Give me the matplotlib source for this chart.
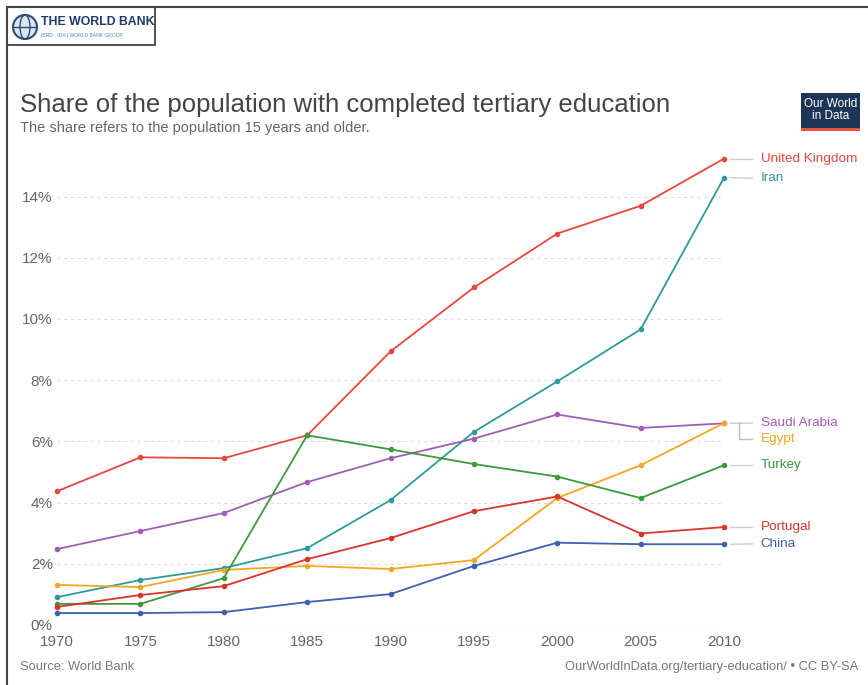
import matplotlib
matplotlib.use("Agg")
import matplotlib.pyplot as plt
from matplotlib.patches import Rectangle, Ellipse
from matplotlib.lines import Line2D

plt.rcParams["font.family"] = ["Liberation Sans", "DejaVu Sans"]

# data (share of population 15+ with completed tertiary education, %)
years = [1970, 1975, 1980, 1985, 1990, 1995, 2000, 2005, 2010]
uk = [4.37, 5.48, 5.45, 6.2, 8.94, 11.03, 12.79, 13.7, 15.24]
iran = [0.91, 1.47, 1.86, 2.51, 4.08, 6.31, 7.96, 9.66, 14.62]
saudi = [2.48, 3.07, 3.66, 4.67, 5.45, 6.09, 6.88, 6.44, 6.59]
egypt = [1.31, 1.24, 1.8, 1.93, 1.83, 2.12, 4.15, 5.22, 6.6]
turkey = [0.69, 0.69, 1.53, 6.2, 5.74, 5.26, 4.85, 4.15, 5.22]
portugal = [0.59, 0.98, 1.27, 2.15, 2.84, 3.72, 4.2, 2.99, 3.2]
china = [0.39, 0.39, 0.42, 0.75, 1.01, 1.93, 2.69, 2.64, 2.64]

series = [
    ("United Kingdom", uk, "#e8473f"),
    ("Iran", iran, "#2e9a9a"),
    ("Saudi Arabia", saudi, "#a15db5"),
    ("Egypt", egypt, "#f5a623"),
    ("Turkey", turkey, "#3c9a3c"),
    ("Portugal", portugal, "#d9342b"),
    ("China", china, "#3f5fb3"),
]
# label y positions (data units) at the right edge
label_y = {"United Kingdom": 15.24, "Iran": 14.6, "Saudi Arabia": 6.6,
           "Egypt": 6.08, "Turkey": 5.22, "Portugal": 3.2, "China": 2.65}

W, H = 868, 685
fig = plt.figure(figsize=(W / 100, H / 100), dpi=100)

# axes placement in pixels
ymax = 15.4
left_px, right_px = 57, 724
zero_px = 625
top_px = zero_px - ymax * 30.6
ax = fig.add_axes([left_px / W, 1 - zero_px / H, (right_px - left_px) / W,
                   (zero_px - top_px) / H])

for name, vals, col in series:
    ax.plot(years, vals, color=col, lw=1.3, marker="o", ms=3, clip_on=False, zorder=3)

ax.set_xlim(1970, 2010)
ax.set_ylim(0, ymax)
ax.set_yticks(range(0, 15, 2))
ax.set_yticklabels([f"{v}%" for v in range(0, 15, 2)])
ax.set_xticks(years)
ax.tick_params(axis="y", length=0, labelsize=11, colors="#666666", pad=3)
ax.tick_params(axis="x", length=0, labelsize=11, colors="#666666", pad=7)
ax.grid(axis="y", color="#dddddd", lw=0.8, ls=(0, (3, 3)))
for s in ax.spines.values():
    s.set_visible(False)
ax.axhline(0, color="#dddddd", lw=0.8)

# right-hand labels with connectors
x0, x1, xt = 2010.36, 2011.7, 2012.2
for name, vals, col in series:
    yl = label_y[name]
    if name == "Egypt":
        ax.plot([2010.9, 2010.9, x1], [6.6, yl, yl], color="#bbbbbb", lw=1, clip_on=False)
    else:
        ax.plot([x0, x1], [vals[-1], yl], color="#cccccc", lw=1, clip_on=False)
    ax.text(xt, yl, name, color=col, fontsize=9.7, va="center", ha="left", clip_on=False)

# titles and notes
fig.text(20 / W, 1 - 105 / H, "Share of the population with completed tertiary education",
         fontsize=18.5, color="#444444", va="center", ha="left")
fig.text(20 / W, 1 - 128 / H, "The share refers to the population 15 years and older.",
         fontsize=10.5, color="#666666", va="center", ha="left")
fig.text(20 / W, 1 - 667 / H, "Source: World Bank", fontsize=9.3, color="#777777",
         va="center", ha="left")
fig.text(858 / W, 1 - 667 / H, "OurWorldInData.org/tertiary-education/ \u2022 CC BY-SA",
         fontsize=9.3, color="#777777", va="center", ha="right")

# OWID logo
fig.patches.append(Rectangle((801 / W, 1 - 128 / H), 59 / W, 35 / H, transform=fig.transFigure,
                             facecolor="#1d3557", edgecolor="none"))
fig.patches.append(Rectangle((801 / W, 1 - 131 / H), 59 / W, 3 / H, transform=fig.transFigure,
                             facecolor="#e5533c", edgecolor="none"))
fig.text(830.5 / W, 1 - 110 / H, "Our World\nin Data", color="white", fontsize=8.5,
         ha="center", va="center", linespacing=0.9)

# outer frame and World Bank logo box
fig.add_artist(Line2D([7 / W, 7 / W], [0, 1 - 7 / H], transform=fig.transFigure,
                      color="#444444", lw=1.5))
fig.add_artist(Line2D([7 / W, 1], [1 - 7 / H, 1 - 7 / H], transform=fig.transFigure,
                      color="#444444", lw=1.5))
fig.patches.append(Rectangle((7 / W, 1 - 45 / H), 148 / W, 38 / H, transform=fig.transFigure,
                             facecolor="white", edgecolor="#333333", lw=1.2))
fig.patches.append(Ellipse((25 / W, 1 - 27 / H), 24 / W, 24 / H, transform=fig.transFigure,
                           facecolor="#dce6f0", edgecolor="#2c4a7a", lw=1.5))
fig.add_artist(Line2D([14 / W, 36 / W], [1 - 27 / H, 1 - 27 / H], transform=fig.transFigure,
                      color="#2c4a7a", lw=1))
fig.patches.append(Ellipse((25 / W, 1 - 27 / H), 10 / W, 24 / H, transform=fig.transFigure,
                           facecolor="none", edgecolor="#2c4a7a", lw=1))
fig.text(41 / W, 1 - 22 / H, "THE WORLD BANK", fontsize=8.8, fontweight="bold",
         color="#1d3b6a", ha="left", va="center")
fig.text(41 / W, 1 - 35 / H, "IBRD \u00b7 IDA | WORLD BANK GROUP", fontsize=3.6,
         color="#5a7fb0", ha="left", va="center")

fig.savefig("out.png", dpi=100)
